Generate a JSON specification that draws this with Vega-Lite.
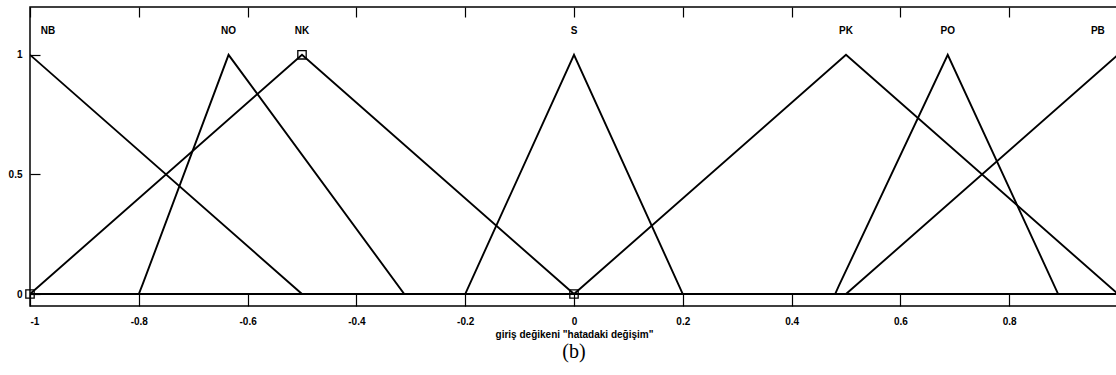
{
  "$schema": "https://vega.github.io/schema/vega-lite/v6.json",
  "autosize": {"type": "none"},
  "padding": {"left": 30, "top": 7, "right": 0, "bottom": 69},
  "width": 1088,
  "height": 299,
  "background": "white",
  "config": {
    "view": {"stroke": "black", "strokeWidth": 1.5},
    "axis": {
      "grid": false,
      "domain": false,
      "tickColor": "black",
      "tickWidth": 1.2,
      "labelColor": "black",
      "labelFont": "Liberation Sans",
      "labelFontWeight": "bold",
      "labelFontSize": 10,
      "titleColor": "black",
      "titleFont": "Liberation Sans",
      "titleFontWeight": "bold",
      "titleFontSize": 10
    }
  },
  "title": {
    "text": "(b)",
    "orient": "bottom",
    "font": "Liberation Serif",
    "fontSize": 20,
    "fontWeight": "normal",
    "color": "black",
    "anchor": "middle",
    "offset": 3
  },
  "datasets": {
    "mfs": [
      {"mf": "NB", "i": 0, "x": -1, "y": 1},
      {"mf": "NB", "i": 1, "x": -0.5, "y": 0},
      {"mf": "NB", "i": 2, "x": 1, "y": 0},
      {"mf": "NO", "i": 0, "x": -1, "y": 0},
      {"mf": "NO", "i": 1, "x": -0.8, "y": 0},
      {"mf": "NO", "i": 2, "x": -0.793, "y": 0.04},
      {"mf": "NO", "i": 3, "x": -0.635, "y": 1},
      {"mf": "NO", "i": 4, "x": -0.312, "y": 0},
      {"mf": "NO", "i": 5, "x": 1, "y": 0},
      {"mf": "NK", "i": 0, "x": -1, "y": 0},
      {"mf": "NK", "i": 1, "x": -0.5, "y": 1},
      {"mf": "NK", "i": 2, "x": 0, "y": 0},
      {"mf": "NK", "i": 3, "x": 1, "y": 0},
      {"mf": "S", "i": 0, "x": -1, "y": 0},
      {"mf": "S", "i": 1, "x": -0.2, "y": 0},
      {"mf": "S", "i": 2, "x": 0, "y": 1},
      {"mf": "S", "i": 3, "x": 0.2, "y": 0},
      {"mf": "S", "i": 4, "x": 1, "y": 0},
      {"mf": "PK", "i": 0, "x": -1, "y": 0},
      {"mf": "PK", "i": 1, "x": 0, "y": 0},
      {"mf": "PK", "i": 2, "x": 0.5, "y": 1},
      {"mf": "PK", "i": 3, "x": 1, "y": 0},
      {"mf": "PO", "i": 0, "x": -1, "y": 0},
      {"mf": "PO", "i": 1, "x": 0.48, "y": 0},
      {"mf": "PO", "i": 2, "x": 0.487, "y": 0.035},
      {"mf": "PO", "i": 3, "x": 0.687, "y": 1},
      {"mf": "PO", "i": 4, "x": 0.89, "y": 0},
      {"mf": "PO", "i": 5, "x": 1, "y": 0},
      {"mf": "PB", "i": 0, "x": -1, "y": 0},
      {"mf": "PB", "i": 1, "x": 0.5, "y": 0},
      {"mf": "PB", "i": 2, "x": 1, "y": 1}
    ],
    "points": [
      {"x": -1, "y": 0},
      {"x": -0.5, "y": 1},
      {"x": 0, "y": 0}
    ],
    "names": [
      {"name": "NB", "x": -0.967, "y": 1.1},
      {"name": "NO", "x": -0.635, "y": 1.1},
      {"name": "NK", "x": -0.5, "y": 1.1},
      {"name": "S", "x": 0, "y": 1.1},
      {"name": "PK", "x": 0.5, "y": 1.1},
      {"name": "PO", "x": 0.687, "y": 1.1},
      {"name": "PB", "x": 0.963, "y": 1.1}
    ]
  },
  "resolve": {"axis": {"x": "independent", "y": "independent"}},
  "layer": [
    {
      "data": {"name": "mfs"},
      "mark": {"type": "line", "color": "black", "strokeWidth": 1.9, "clip": true},
      "encoding": {
        "x": {
          "field": "x",
          "type": "quantitative",
          "scale": {"domain": [-1, 1], "nice": false, "zero": false},
          "axis": {
            "orient": "bottom",
            "values": [-1, -0.8, -0.6, -0.4, -0.2, 0, 0.2, 0.4, 0.6, 0.8],
            "labelExpr": "'' + datum.value",
            "tickSize": -12,
            "labelPadding": 22,
            "title": "giriş değikeni \"hatadaki değişim\"",
            "titlePadding": 3
          }
        },
        "y": {
          "field": "y",
          "type": "quantitative",
          "scale": {"domain": [-0.05, 1.2], "nice": false, "zero": false},
          "axis": {
            "orient": "left",
            "values": [0, 0.5, 1],
            "labelExpr": "'' + datum.value",
            "tickSize": -10,
            "labelPadding": 18,
            "title": null
          }
        },
        "detail": {"field": "mf"},
        "order": {"field": "i", "type": "quantitative"}
      }
    },
    {
      "data": {"name": "points"},
      "mark": {"type": "point", "shape": "square", "filled": false, "color": "black", "size": 70, "strokeWidth": 1.3, "opacity": 1},
      "encoding": {
        "x": {"field": "x", "type": "quantitative", "scale": {"domain": [-1, 1], "nice": false, "zero": false}, "axis": null},
        "y": {"field": "y", "type": "quantitative", "scale": {"domain": [-0.05, 1.2], "nice": false, "zero": false}, "axis": null}
      }
    },
    {
      "data": {"name": "names"},
      "mark": {"type": "text", "font": "Liberation Sans", "fontWeight": "bold", "fontSize": 10, "color": "black", "align": "center", "baseline": "middle"},
      "encoding": {
        "x": {
          "field": "x",
          "type": "quantitative",
          "scale": {"domain": [-1, 1], "nice": false, "zero": false},
          "axis": {
            "orient": "top",
            "values": [-1, -0.8, -0.6, -0.4, -0.2, 0, 0.2, 0.4, 0.6, 0.8, 1],
            "labels": false,
            "tickSize": -10,
            "title": null
          }
        },
        "y": {"field": "y", "type": "quantitative", "scale": {"domain": [-0.05, 1.2], "nice": false, "zero": false}, "axis": null},
        "text": {"field": "name"}
      }
    }
  ]
}
